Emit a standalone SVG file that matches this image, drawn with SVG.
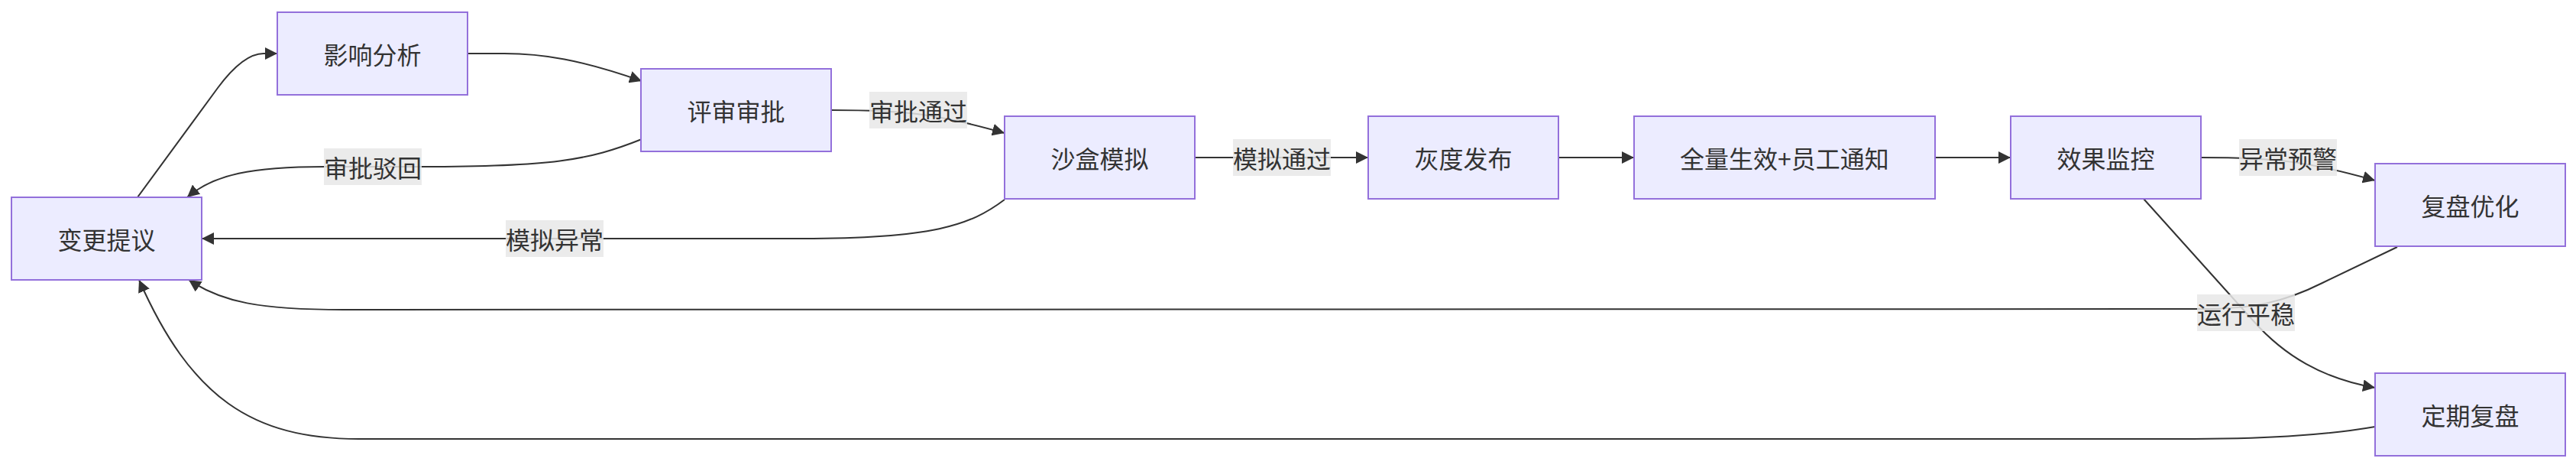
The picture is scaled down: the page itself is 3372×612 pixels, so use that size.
<svg xmlns="http://www.w3.org/2000/svg" width="3372" height="612" viewBox="0 0 3372 612">
<style>
.node rect{fill:#ECECFF;stroke:#9370DB;stroke-width:2}
.node text,.lbl text{font-family:"Noto Sans CJK SC","Noto Sans",sans-serif;font-size:32px;fill:#333;text-anchor:middle;dominant-baseline:central}
.edge{fill:none;stroke:#333;stroke-width:2;marker-end:url(#arrow)}
.lbl rect{fill:#e8e8e8;fill-opacity:0.85}
</style>
<defs>
<marker id="arrow" viewBox="0 0 10 10" refX="10" refY="5" markerUnits="userSpaceOnUse" markerWidth="16" markerHeight="16" orient="auto">
<path d="M0,0 L10,5 L0,10 z" fill="#333"/>
</marker>
</defs>
<rect width="3372" height="612" fill="#fff"/>
<g id="connectors">
<path class="edge" d="M180,258 L285,115 C305,88 325,70 345,70 L363,70"/>
<path class="edge" d="M612,70 L660,70 C710,70 760,78 840,106"/>
<path class="edge" d="M840,182 C770,210 720,218 552,218 L425,218 C330,218 280,228 245,258"/>
<path class="edge" d="M1088,144 C1190,144 1230,150 1315,174"/>
<path class="edge" d="M1315,261 C1270,295 1220,312 1050,312 L264,312"/>
<path class="edge" d="M1564,206 L1791,206"/>
<path class="edge" d="M2040,206 L2139,206"/>
<path class="edge" d="M2533,206 L2632,206"/>
<path class="edge" d="M2881,206 C2980,206 3020,211 3109,236"/>
<path class="edge" d="M2806,260 L2950,420 C2990,465 3040,495 3109,507"/>
<path class="edge" d="M3138,323 L3040,370 C2990,395 2950,404 2880,404 L450,405 C340,405 290,395 247,366"/>
<path class="edge" d="M3109,558 C3040,570 2960,574 2850,574 L470,574 C330,574 250,520 182,366"/>
</g>
<g id="edge-labels">
<g class="lbl"><rect x="424" y="194" width="128" height="48"/><text x="488" y="218">审批驳回</text></g>
<g class="lbl"><rect x="1138" y="120" width="128" height="48"/><text x="1202" y="144">审批通过</text></g>
<g class="lbl"><rect x="662" y="288" width="128" height="48"/><text x="726" y="312">模拟异常</text></g>
<g class="lbl"><rect x="1614" y="182" width="128" height="48"/><text x="1678" y="206">模拟通过</text></g>
<g class="lbl"><rect x="2931" y="182" width="128" height="48"/><text x="2995" y="206">异常预警</text></g>
<g class="lbl"><rect x="2876" y="385" width="128" height="48"/><text x="2940" y="409">运行平稳</text></g>
</g>
<g id="A" class="node"><rect x="15" y="258" width="249" height="108"/><text x="139.5" y="312">变更提议</text></g>
<g id="B" class="node"><rect x="363" y="16" width="249" height="108"/><text x="487.5" y="70">影响分析</text></g>
<g id="C" class="node"><rect x="839" y="90" width="249" height="108"/><text x="963.5" y="144">评审审批</text></g>
<g id="D" class="node"><rect x="1315" y="152" width="249" height="108"/><text x="1439.5" y="206">沙盒模拟</text></g>
<g id="E" class="node"><rect x="1791" y="152" width="249" height="108"/><text x="1915.5" y="206">灰度发布</text></g>
<g id="F" class="node"><rect x="2139" y="152" width="394" height="108"/><text x="2336" y="206">全量生效+员工通知</text></g>
<g id="G" class="node"><rect x="2632" y="152" width="249" height="108"/><text x="2756.5" y="206">效果监控</text></g>
<g id="H" class="node"><rect x="3109" y="214" width="249" height="108"/><text x="3233.5" y="268">复盘优化</text></g>
<g id="I" class="node"><rect x="3109" y="488" width="249" height="108"/><text x="3233.5" y="542">定期复盘</text></g>
</svg>
